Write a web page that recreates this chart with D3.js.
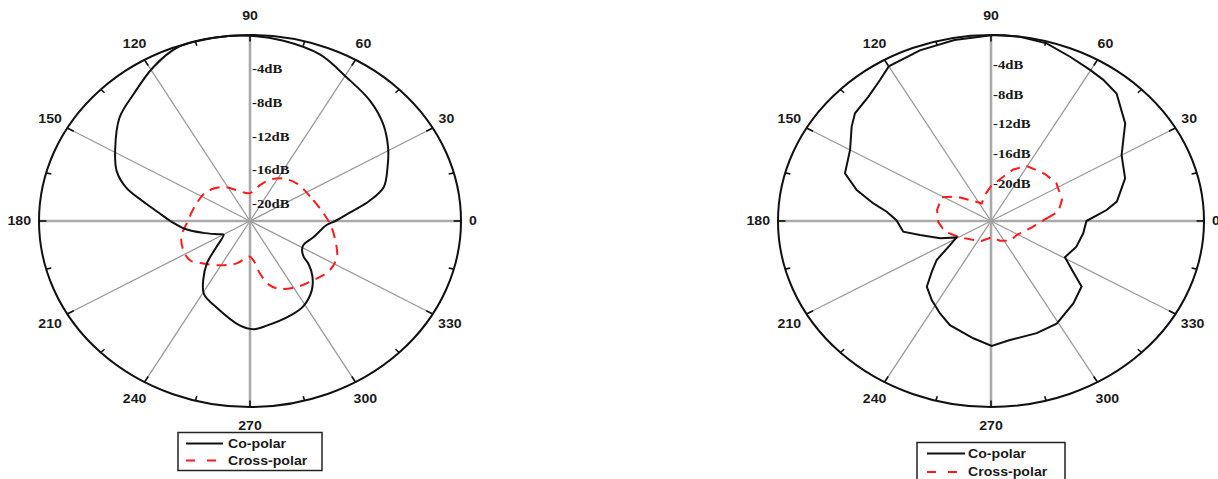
<!DOCTYPE html>
<html>
<head>
<meta charset="utf-8">
<script src="https://cdn.jsdelivr.net/npm/d3@7.9.0/dist/d3.min.js"></script>
<style>
  body { margin: 0; background: #fff; }
  svg { display: block; }
</style>
</head>
<body>
<svg id="chart" width="1218" height="479"></svg>
<script>
// angle labels around the ring, dB rings on the vertical axis
const angleTicks = [0, 30, 60, 90, 120, 150, 180, 210, 240, 270, 300, 330];
const dbTicks = [-4, -8, -12, -16, -20];
const legendNames = ['Co-polar', 'Cross-polar'];

// left pattern (degrees / dB)
const leftCoAngle = [0, 5.6, 10.9, 16, 24, 31, 39.5, 48.7, 59.3, 69.7, 80.7, 90, 99, 110, 119, 129, 138, 149, 157, 163, 168, 174, 180, 188, 196, 206, 210.5, 221, 228, 235, 241, 251, 265, 271.6, 278, 290.5, 299, 308, 315, 320, 323, 328, 333, 344, 356.6];
const leftCoDb    = [-13.1, -11.5, -9.3, -7.5, -6.3, -5.2, -4.0, -3.05, -2.25, -1.0, -0.4, -0.1, 0, -0.1, -1.2, -2.7, -3.7, -5.6, -6.9, -8.5, -10.5, -12.4, -13.7, -15.2, -16.9, -18.4, -18.8, -17.4, -15.3, -13.5, -12.1, -11.2, -9.6, -9.2, -9.5, -10.05, -10.5, -11.55, -12.8, -14.0, -15.0, -15.6, -15.75, -15.1, -14.0];
const leftXAngle  = [7, 25, 42, 55.5, 67, 76, 90, 110.7, 124.6, 142.4, 159.4, 182.3, 194.6, 206, 216.5, 226, 239, 254.5, 269, 274, 279.5, 285, 291, 302, 313, 325, 335, 346, 357];
const leftXDb     = [-14.3, -15.1, -15.4, -15.9, -16.7, -17.6, -18.7, -18.1, -17.1, -16.3, -16.05, -15.4, -14.6, -14.25, -14.2, -15.0, -15.9, -16.8, -17.8, -17.4, -15.7, -14.15, -13.4, -12.8, -12.4, -11.85, -12.0, -12.85, -13.6];

// right pattern (degrees / dB)
const rightCoAngle = [0, 6.2, 10, 20, 30, 39.8, 49.3, 55.2, 60.2, 67.2, 74.7, 82.2, 89.4, 100, 110, 120, 124.5, 130.8, 137.8, 142.2, 150, 159.5, 165.2, 170.3, 174.2, 179.4, 187.9, 192.7, 201.3, 208.6, 213.9, 219.4, 224.5, 229.5, 236.8, 244.3, 251, 262.5, 270.3, 277.9, 289.6, 299.2, 311.1, 320.4, 324.7, 330.7, 341, 351.3];
const rightCoDb    = [-13.8, -11.35, -10.0, -8.25, -7.3, -4.5, -2.4, -1.9, -1.6, -1.05, -0.25, 0, 0, -0.3, -0.6, -1.0, -2.0, -2.95, -3.45, -4.3, -5.9, -6.7, -8.7, -11.0, -12.7, -13.9, -14.6, -16.45, -18.6, -20.4, -19.2, -16.75, -15.25, -13.4, -12.3, -11.2, -10.2, -9.1, -8.2, -8.85, -9.0, -9.2, -10.3, -11.2, -13.2, -15.05, -14.4, -14.05];
const rightXAngle  = [3.2, 9, 18.8, 33.4, 44.9, 60.4, 69.3, 89, 100, 114.8, 131.2, 140.9, 151.2, 166.8, 181, 194.8, 208.8, 224.7, 247.5, 272, 291.6, 311, 328, 348];
const rightXDb     = [-18.45, -17, -16.2, -15.8, -16.05, -16.5, -17.6, -20.2, -21.3, -22.4, -21.25, -19.8, -18.4, -18.5, -18.8, -19.4, -20.6, -21.5, -22.1, -22.8, -22.15, -21.5, -21.45, -20.3];

const svg = d3.select('#chart');
const stretch = 1.13; // the source figure is stretched sideways

const panels = [
  { cx: 250, cy: 221, rx: 211, ry: 186, dbMin: -22, curve: d3.curveCatmullRomClosed.alpha(0.5),
    co: [leftCoAngle, leftCoDb], cross: [leftXAngle, leftXDb],
    legend: { x: 178, y: 432.5, w: 144, h: 38, row1: 443.5, row2: 460.5, lx0: 186, lx1: 223, tx: 228 } },
  { cx: 991, cy: 221, rx: 213, ry: 186, dbMin: -25, curve: d3.curveLinearClosed,
    co: [rightCoAngle, rightCoDb], cross: [rightXAngle, rightXDb],
    legend: { x: 917, y: 442.5, w: 148, h: 45, row1: 453.5, row2: 472, lx0: 927, lx1: 965, tx: 968 } }
];

const rad = d3.scaleLinear().domain([0, 360]).range([0, 2 * Math.PI]);

function stretchedText(g, x, y, str) {
  return g.append('text')
    .attr('transform', `translate(${x},${y}) scale(${stretch},1)`)
    .text(str);
}

function drawPanel(p) {
  const g = svg.append('g');
  const r = d3.scaleLinear().domain([p.dbMin, 0]).range([0, 1]).clamp(true);
  const px = (a, db) => p.cx + p.rx * r(db) * Math.cos(rad(a));
  const py = (a, db) => p.cy - p.ry * r(db) * Math.sin(rad(a));

  // spokes
  g.selectAll('line.spoke')
    .data(angleTicks)
    .join('line')
    .attr('x1', p.cx).attr('y1', p.cy)
    .attr('x2', d => px(d, 0)).attr('y2', d => py(d, 0))
    .attr('stroke', d => d % 90 === 0 ? '#aaa' : '#999')
    .attr('stroke-width', d => d % 90 === 0 ? 2.6 : 1.3);

  // outer ring
  g.append('ellipse')
    .attr('cx', p.cx).attr('cy', p.cy)
    .attr('rx', p.rx).attr('ry', p.ry)
    .attr('fill', 'none')
    .attr('stroke', '#111')
    .attr('stroke-width', 2);

  // ring ticks every 15 degrees
  const ringTicks = d3.range(0, 360, 15);
  g.selectAll('line.rtick')
    .data(ringTicks)
    .join('line')
    .attr('x1', d => px(d, 0)).attr('y1', d => py(d, 0))
    .attr('x2', d => p.cx + p.rx * (d % 30 === 0 ? 0.965 : 0.975) * Math.cos(rad(d)))
    .attr('y2', d => p.cy - p.ry * (d % 30 === 0 ? 0.965 : 0.975) * Math.sin(rad(d)))
    .attr('stroke', '#111')
    .attr('stroke-width', 1.6);

  // dB labels
  dbTicks.forEach(db => {
    stretchedText(g, p.cx + 2, py(90, db), `${db}dB`)
      .attr('dominant-baseline', 'central')
      .attr('font-family', 'Liberation Serif, Times New Roman, serif')
      .attr('font-weight', 'bold')
      .attr('font-size', 13)
      .attr('fill', '#1a1a1a');
  });

  // angle labels
  angleTicks.forEach(a => {
    const c = Math.cos(rad(a)), s = Math.sin(rad(a));
    const t = g.append('text')
      .attr('text-anchor', 'middle')
      .attr('dominant-baseline', 'central')
      .attr('font-family', 'Liberation Sans, Arial, sans-serif')
      .attr('font-weight', 'bold')
      .attr('font-size', 12.5)
      .attr('fill', '#1a1a1a')
      .text(a);
    const w = t.node().getComputedTextLength() * stretch;
    const x = p.cx + (p.rx + 8) * c + c * w / 2;
    const y = p.cy - (p.ry + 19) * s;
    t.attr('transform', `translate(${x},${y}) scale(${stretch},1)`);
  });

  const line = d3.line()
    .x(d => px(d[0], d[1]))
    .y(d => py(d[0], d[1]))
    .curve(p.curve);

  g.append('path')
    .datum(d3.zip(p.cross[0], p.cross[1]))
    .attr('d', line)
    .attr('fill', 'none')
    .attr('stroke', '#ff1a1a')
    .attr('stroke-width', 2)
    .attr('stroke-dasharray', '10,7');

  g.append('path')
    .datum(d3.zip(p.co[0], p.co[1]))
    .attr('d', line)
    .attr('fill', 'none')
    .attr('stroke', '#111')
    .attr('stroke-width', 2);

  // legend
  const L = p.legend;
  g.append('rect')
    .attr('x', L.x).attr('y', L.y)
    .attr('width', L.w).attr('height', L.h)
    .attr('fill', '#fff')
    .attr('stroke', '#222')
    .attr('stroke-width', 1.5);
  g.append('line')
    .attr('x1', L.lx0).attr('x2', L.lx1)
    .attr('y1', L.row1).attr('y2', L.row1)
    .attr('stroke', '#111').attr('stroke-width', 2);
  g.append('line')
    .attr('x1', L.lx0).attr('x2', L.lx1)
    .attr('y1', L.row2).attr('y2', L.row2)
    .attr('stroke', '#ff1a1a').attr('stroke-width', 2)
    .attr('stroke-dasharray', '9,12');
  [L.row1, L.row2].forEach((ry, i) => {
    stretchedText(g, L.tx, ry, legendNames[i])
      .attr('dominant-baseline', 'central')
      .attr('font-family', 'Liberation Sans, Arial, sans-serif')
      .attr('font-weight', 'bold')
      .attr('font-size', 12.5)
      .attr('fill', '#1a1a1a');
  });
}

panels.forEach(drawPanel);
</script>
</body>
</html>
